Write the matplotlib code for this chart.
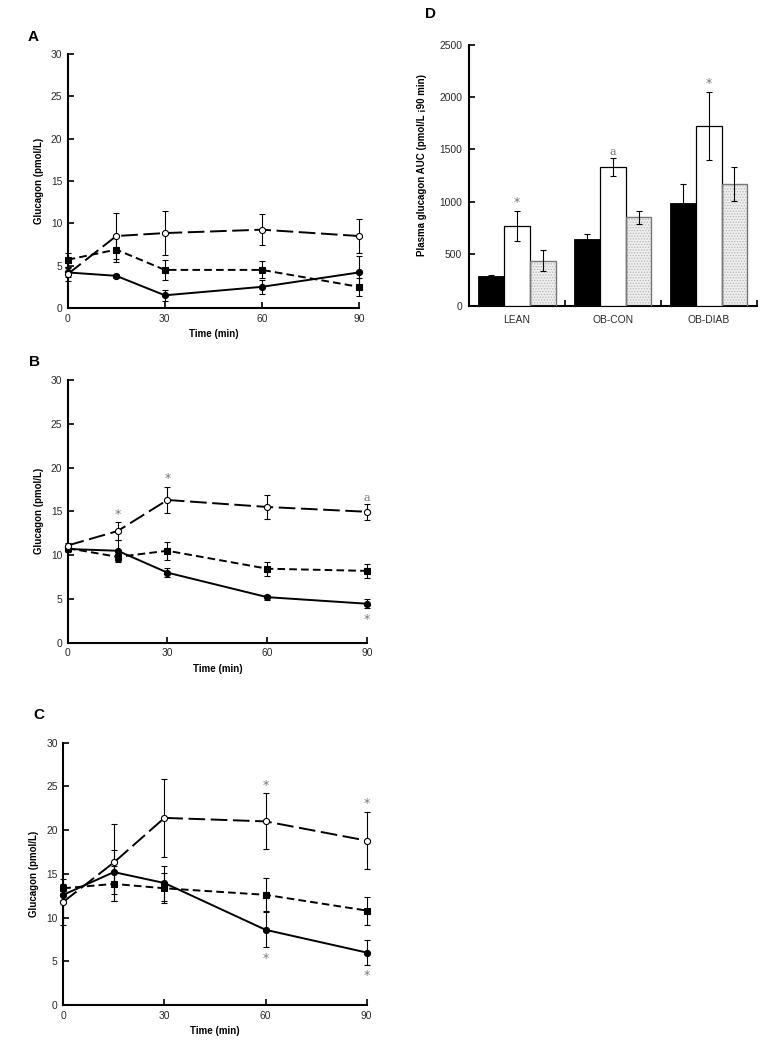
import matplotlib
matplotlib.use("Agg")
import matplotlib.pyplot as plt
import numpy as np

plt.rcParams['font.family'] = ['Liberation Sans', 'DejaVu Sans']
plt.rcParams['lines.scale_dashes'] = False
plt.rcParams['hatch.linewidth'] = 0.6

# ---------------- data ----------------
time = [0, 15, 30, 60, 90]

A_filled = [4.2, 3.8, 1.5, 2.5, 4.2]
A_filled_err = [0.5, 0.2, 0.65, 0.8, 2.0]
A_square = [5.7, 6.9, 4.5, 4.5, 2.5]
A_square_err = [0.8, 1.5, 1.2, 1.0, 1.1]
A_open = [4.0, 8.5, 8.85, 9.25, 8.5]
A_open_err = [0.8, 2.7, 2.6, 1.8, 2.0]

B_filled = [10.7, 10.5, 8.0, 5.2, 4.45]
B_filled_err = [0.3, 1.2, 0.5, 0.3, 0.5]
B_square = [10.8, 9.8, 10.5, 8.45, 8.2]
B_square_err = [0.3, 0.6, 1.0, 0.8, 0.8]
B_open = [11.1, 12.75, 16.3, 15.5, 14.95]
B_open_err = [0.3, 1.0, 1.5, 1.4, 0.9]

C_filled = [12.6, 15.2, 13.95, 8.6, 6.0]
C_filled_err = [0.6, 2.5, 2.0, 2.0, 1.4]
C_square = [13.35, 13.85, 13.35, 12.6, 10.8]
C_square_err = [0.5, 2.0, 1.7, 1.9, 1.6]
C_open = [11.8, 16.3, 21.4, 21.0, 18.8]
C_open_err = [2.6, 4.4, 4.5, 3.2, 3.3]

# annotations: (series, time index, text, above?)
B_marks = [("open", 1, "*", True), ("open", 2, "*", True),
           ("open", 4, "a", True), ("filled", 4, "*", False)]
C_marks = [("open", 3, "*", True), ("open", 4, "*", True),
           ("filled", 3, "*", False), ("filled", 4, "*", False)]

groups = ["LEAN", "OB-CON", "OB-DIAB"]
D_black = [285, 643, 986]
D_black_err = [5, 50, 180]
D_white = [768, 1332, 1725]
D_white_err = [145, 85, 330]
D_dotted = [432, 848, 1168]
D_dotted_err = [100, 65, 165]
D_marks = [(0, "*"), (1, "a"), (2, "*")]

# ---------------- figure ----------------
W, H = 770, 1049
fig = plt.figure(figsize=(W / 100, H / 100), dpi=100)


def px_axes(l, t, r, b):
    return fig.add_axes([l / W, 1 - b / H, (r - l) / W, (b - t) / H])


tick_col = '#2a2a2a'
TICK_FS = 7.4
LAB_FS = 7.0
MARK_COL = '#777777'


def mark_text(ax, txt, xy, above):
    if txt == '*':
        kw = dict(fontsize=9, family='DejaVu Sans')
    else:
        kw = dict(fontsize=8, family='DejaVu Serif')
    ax.annotate(txt, xy, xytext=(0, 1 if above else -8),
                textcoords='offset points', ha='center',
                va='bottom' if above else 'center', color=MARK_COL,
                annotation_clip=False, **kw)


def style_line_axes(ax):
    ax.set_xlim(0, 90)
    ax.set_ylim(0, 30)
    ax.set_xticks([0, 30, 60, 90])
    ax.set_yticks([0, 5, 10, 15, 20, 25, 30])
    for s in ['top', 'right']:
        ax.spines[s].set_visible(False)
    for s in ['left', 'bottom']:
        ax.spines[s].set_linewidth(1.5)
    ax.tick_params(direction='in', length=4, width=1.2, labelsize=TICK_FS,
                   labelcolor=tick_col, pad=4)
    ax.set_xlabel('Time (min)', fontsize=LAB_FS, fontweight='bold', labelpad=4)
    ax.set_ylabel('Glucagon (pmol/L)', fontsize=LAB_FS, fontweight='bold', labelpad=5)


def draw_series(ax, y, e, marker, mfc, dashes, z):
    ax.errorbar(time, y, yerr=e, fmt='none', ecolor='black', elinewidth=0.8,
                capsize=2.0, capthick=0.8, zorder=z, clip_on=False)
    line, = ax.plot(time, y, color='black', lw=1.4, marker=marker,
                    ms=4.4 if marker == 'o' else 5.0,
                    mfc=mfc, mec='black', mew=0.8, zorder=z + 1, clip_on=False)
    if dashes is not None:
        line.set_dashes(dashes)


def panel(l, t, r, b, letter, letter_xy, f, fe, s, se, o, oe, marks):
    ax = px_axes(l, t, r, b)
    style_line_axes(ax)
    draw_series(ax, f, fe, 'o', 'black', None, 3)
    draw_series(ax, s, se, 's', 'black', (5.5, 3.0), 5)
    draw_series(ax, o, oe, 'o', 'white', (12.0, 4.0), 7)
    fig.text(letter_xy[0] / W, 1 - letter_xy[1] / H, letter, fontsize=11,
             fontweight='bold', ha='left', va='center')
    data = {"filled": (f, fe), "open": (o, oe)}
    for series, i, txt, above in marks:
        vals, errs = data[series]
        yv = vals[i] + errs[i] if above else vals[i] - errs[i]
        mark_text(ax, txt, (time[i], yv), above)
    return ax


panel(67.7, 54, 359, 308, 'A', (28, 37), A_filled, A_filled_err,
      A_square, A_square_err, A_open, A_open_err, [])
panel(67.7, 380, 367, 642.7, 'B', (29, 362), B_filled, B_filled_err,
      B_square, B_square_err, B_open, B_open_err, B_marks)
panel(63.3, 742.7, 366.7, 1005, 'C', (33, 715), C_filled, C_filled_err,
      C_square, C_square_err, C_open, C_open_err, C_marks)

# ---------------- panel D ----------------
axd = px_axes(469, 45.3, 756.7, 305.7)
x = np.arange(len(groups))
bw = 0.268
axd.set_xlim(-0.5, 2.5)
axd.set_ylim(0, 2500)
ekw = dict(ecolor='black', elinewidth=0.8, capsize=2.0, capthick=0.8)
axd.bar(x - bw, D_black, bw, color='black', edgecolor='black', lw=0.6,
        yerr=D_black_err, error_kw=ekw, zorder=3)
axd.bar(x, D_white, bw, color='white', edgecolor='black', lw=0.9,
        yerr=D_white_err, error_kw=ekw, zorder=3)
axd.bar(x + bw, D_dotted, bw, color='#eeeeee', edgecolor='#b5b5b5', lw=0,
        hatch='......', zorder=2)
axd.bar(x + bw, D_dotted, bw, fill=False, edgecolor='#777777', lw=1.0,
        yerr=D_dotted_err, error_kw=ekw, zorder=3)
for i, txt in D_marks:
    mark_text(axd, txt, (x[i], D_white[i] + D_white_err[i]), True)
for s in ['top', 'right']:
    axd.spines[s].set_visible(False)
for s in ['left', 'bottom']:
    axd.spines[s].set_linewidth(1.5)
axd.set_yticks([0, 500, 1000, 1500, 2000, 2500])
axd.set_xticks(x)
axd.set_xticklabels(groups)
axd.set_xticks([0.5, 1.5, 2.5], minor=True)
axd.tick_params(axis='x', which='major', length=0, labelsize=TICK_FS,
                labelcolor=tick_col, pad=7)
axd.tick_params(axis='x', which='minor', direction='in', length=4, width=1.2)
axd.tick_params(axis='y', direction='in', length=4, width=1.2, labelsize=TICK_FS,
                labelcolor=tick_col, pad=5)
axd.set_ylabel('Plasma glucagon AUC (pmol/L \u00a190 min)', fontsize=LAB_FS,
               fontweight='bold')
axd.yaxis.set_label_coords(-0.146, 0.54)
fig.text(425 / W, 1 - 14 / H, 'D', fontsize=11, fontweight='bold',
         ha='left', va='center')

fig.savefig('out.png', dpi=100)
